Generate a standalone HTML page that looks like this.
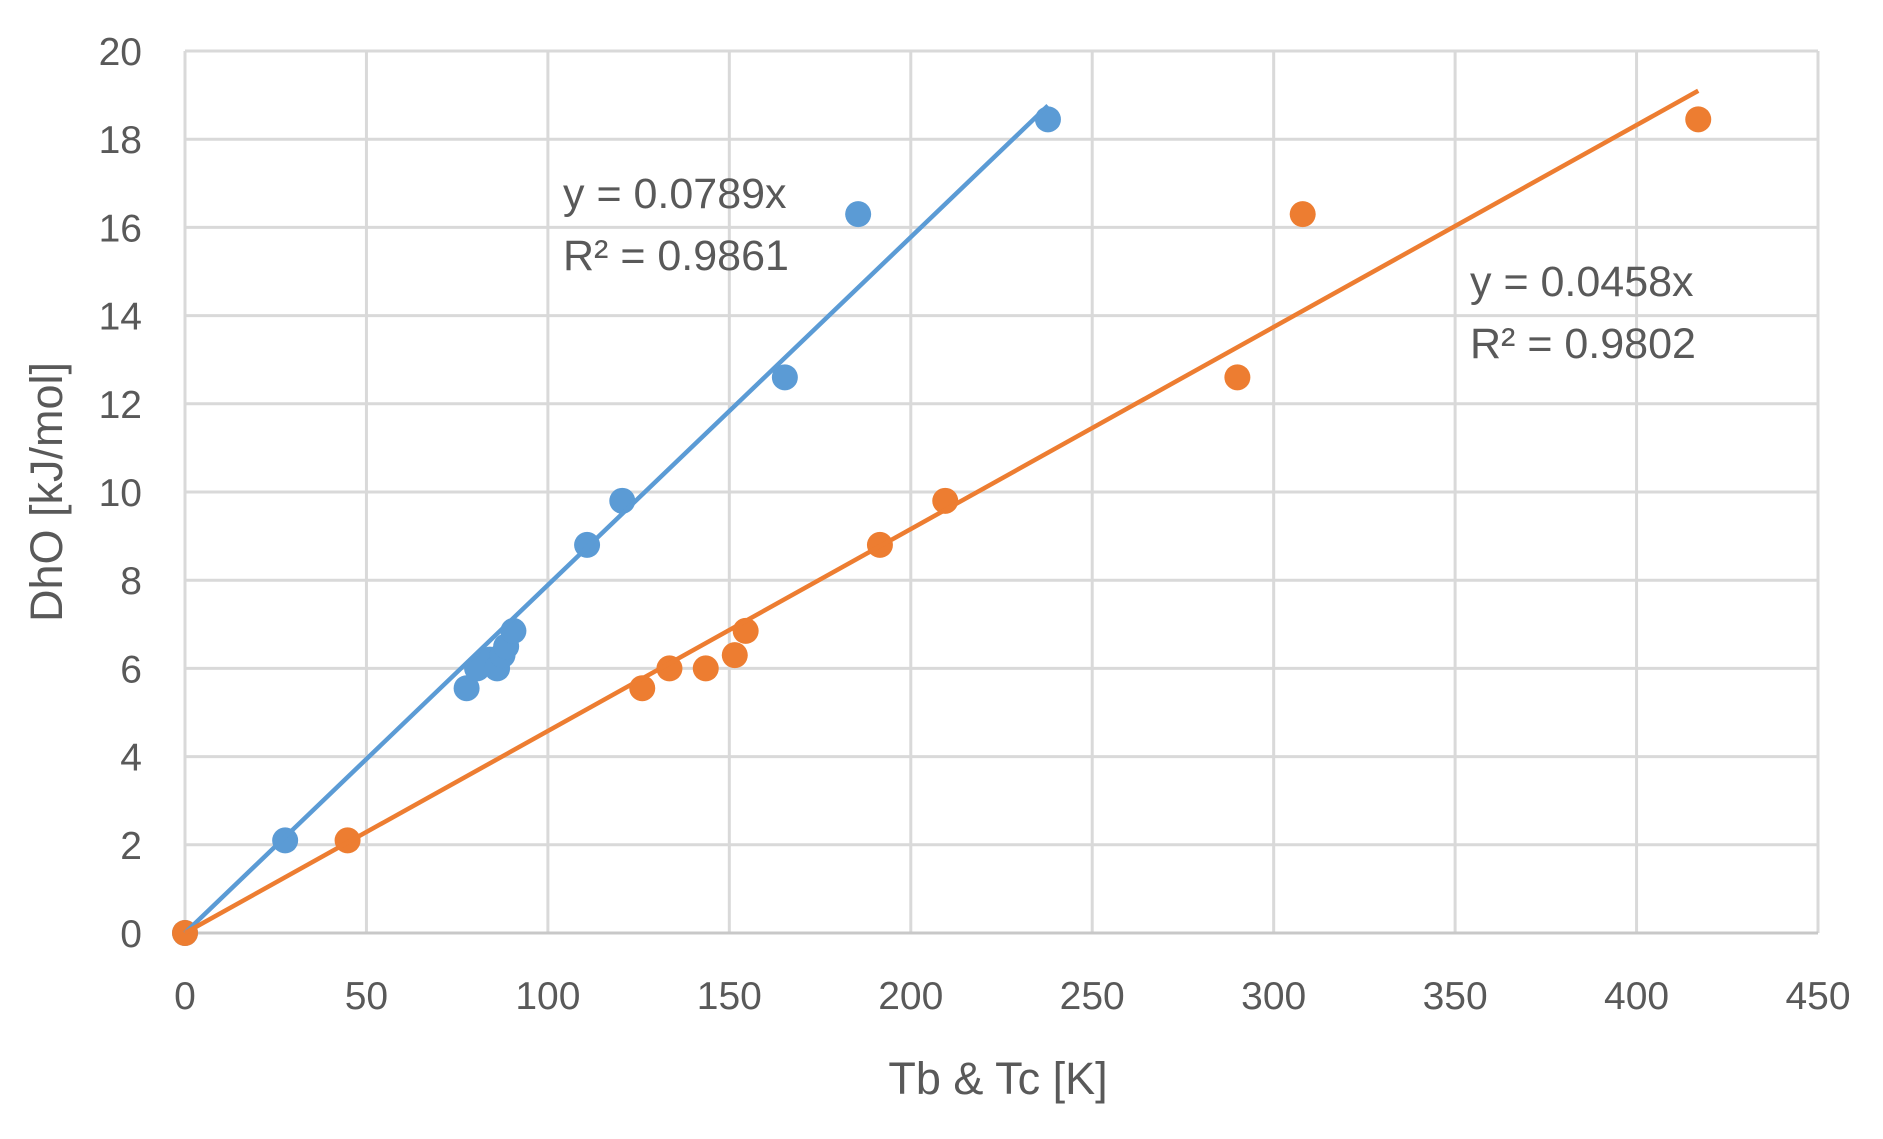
<!DOCTYPE html>
<html><head><meta charset="utf-8"><style>
html,body{margin:0;padding:0;background:#fff;}
svg{display:block;}
text{font-family:"Liberation Sans",sans-serif;fill:#595959;}
</style></head><body>
<svg id="s" width="1883" height="1139" viewBox="0 0 1883 1139" xmlns="http://www.w3.org/2000/svg"></svg>
<script>
var s=document.getElementById('s'),h='';
var X0=185,X1=1818,Y0=933,Y1=51;
function px(x){return X0+x*(X1-X0)/450;}
function py(y){return Y0-y*(Y0-Y1)/20;}
for(var i=0;i<=9;i++){var x=px(i*50);h+='<line x1="'+x+'" y1="'+Y1+'" x2="'+x+'" y2="'+Y0+'" stroke="#d9d9d9" stroke-width="3"/>';
h+='<text x="'+x+'" y="1009" font-size="39" text-anchor="middle">'+(i*50)+'</text>';}
for(var j=0;j<=10;j++){var y=py(j*2);h+='<line x1="'+X0+'" y1="'+y+'" x2="'+X1+'" y2="'+y+'" stroke="#d9d9d9" stroke-width="3"/>';
h+='<text x="142" y="'+(y+14)+'" font-size="39" text-anchor="end">'+(j*2)+'</text>';}
h+='<line x1="'+X0+'" y1="'+Y0+'" x2="'+X1+'" y2="'+Y0+'" stroke="#c8c8c8" stroke-width="3"/>';
var B=[[0,0],[27.6,2.1],[77.6,5.55],[80.5,6.0],[84,6.2],[86,6.0],[87.5,6.3],[88.5,6.5],[90.5,6.85],[110.8,8.8],[120.5,9.8],[165.3,12.6],[185.5,16.3],[237.8,18.45]];
var O=[[0,0],[44.8,2.1],[126,5.55],[133.5,6.0],[143.5,6.0],[151.5,6.3],[154.5,6.85],[191.5,8.8],[209.5,9.8],[290,12.6],[308,16.3],[417,18.45]];
function ser(d,c){d.forEach(function(p){h+='<circle cx="'+px(p[0])+'" cy="'+py(p[1])+'" r="13" fill="'+c+'"/>';});}
ser(B,'#5B9BD5');ser(O,'#ED7D31');
h+='<line x1="'+px(0)+'" y1="'+py(0)+'" x2="'+px(237.8)+'" y2="'+py(0.0789*237.8)+'" stroke="#5B9BD5" stroke-width="4.5"/>';
h+='<line x1="'+px(0)+'" y1="'+py(0)+'" x2="'+px(417)+'" y2="'+py(0.0458*417)+'" stroke="#ED7D31" stroke-width="4.5"/>';
h+='<text x="563" y="208" font-size="43">y = 0.0789x</text>';
h+='<text x="563" y="270" font-size="43">R² = 0.9861</text>';
h+='<text x="1470" y="296" font-size="43">y = 0.0458x</text>';
h+='<text x="1470" y="358" font-size="43">R² = 0.9802</text>';
h+='<text x="998" y="1094" font-size="45" text-anchor="middle">Tb &amp; Tc [K]</text>';
h+='<text transform="translate(62,492) rotate(-90)" font-size="45" text-anchor="middle">DhO [kJ/mol]</text>';
s.innerHTML=h;
</script>
</body></html>
